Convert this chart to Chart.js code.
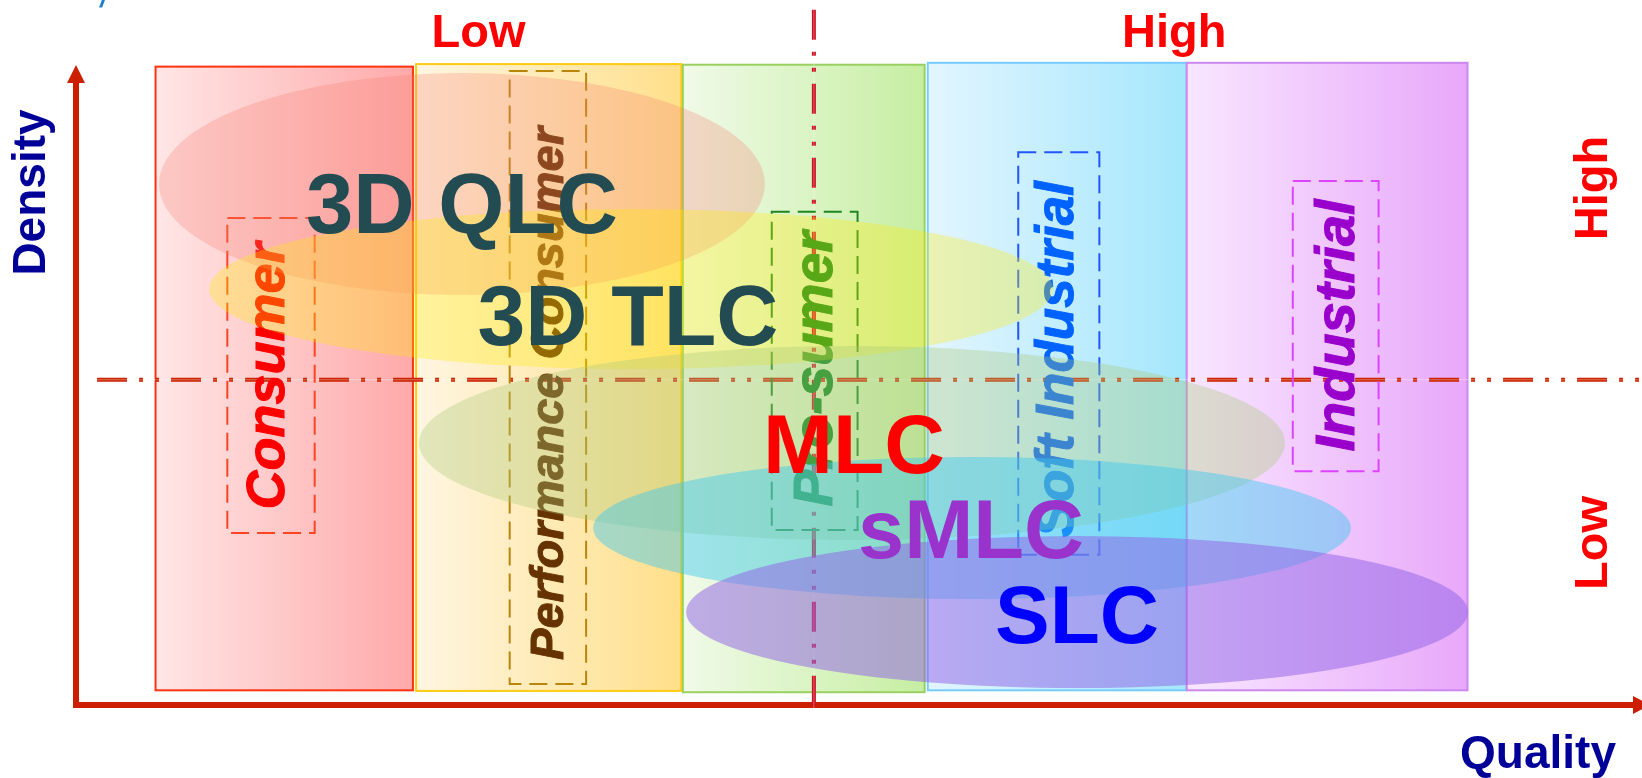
<!DOCTYPE html>
<html><head><meta charset="utf-8">
<script src="https://cdn.jsdelivr.net/npm/chart.js@4.4.0/dist/chart.umd.min.js"></script>
<style>html,body{margin:0;padding:0;background:#fff;overflow:hidden}#wrap{width:1642px;height:778px}</style>
</head><body><div id="wrap"><canvas id="c" width="1642" height="778"></canvas></div>
<script>
// ---- Data: Quality (x, 0-100) and Density (y, 0-100) units ----
const segmentNames = ['Consumer', 'Performance Consumer', 'Pro-sumer', 'Soft Industrial', 'Industrial'];
const segmentQualityFrom = [5.1, 21.8, 38.9, 54.6, 71.2];
const segmentQualityTo   = [21.6, 38.8, 54.4, 71.2, 89.2];
const segmentDensityFrom = [2.3, 2.2, 2.0, 2.3, 2.3];
const segmentDensityTo   = [99.9, 100.3, 100.2, 100.5, 100.5];

const boxQualityFrom = [9.7, 27.8, 44.6, 60.4, 78.0];
const boxQualityTo   = [15.3, 32.7, 50.1, 65.6, 83.5];
const boxDensityFrom = [26.9, 3.3, 27.4, 23.5, 36.6];
const boxDensityTo   = [76.2, 99.2, 77.2, 86.5, 82.0];
const segLabelQuality = [12.4, 30.4, 47.5, 62.95, 80.96];
const segLabelDensity = [51.5, 48.75, 52.6, 54.1, 59.4];

const techNames = ['3D QLC', '3D TLC', 'MLC', 'sMLC', 'SLC'];
const techQuality = [24.74, 35.58, 49.74, 57.44, 64.17];
const techDensity = [81.53, 65.10, 41.00, 27.70, 14.55];
const techQualitySpread = [19.42, 27.05, 27.76, 24.29, 25.06];
const techDensitySpread = [17.37, 12.52, 15.18, 11.11, 11.89];
const techLabelQuality = [24.74, 35.38, 49.87, 57.37, 64.17];
const techLabelDensity = [73.9, 56.3, 36.3, 23.0, 9.7];

const qualityTicks = ['Low', 'High'];
const qualityTickValues = [25.8, 70.4];
const densityTicks = ['Low', 'High'];
const densityTickValues = [25.35, 80.9];
const qualityDivider = 47.3;
const densityDivider = 50.9;
const qualityDividerSpan = [-1.25, 108.8];   // density range of the vertical divider
const densityDividerSpan = [1.35, 100.2];    // quality range of the horizontal divider

// ---- Styles ----
const FONT = '"Liberation Sans", Arial, Helvetica, sans-serif';
const segFillFrom = ['#ffe6e6', '#fff6e2', '#f0fae8', '#e2f5ff', '#f8e6ff'];
const segFillTo   = ['#ffa9a9', '#ffdf8a', '#c6eea2', '#a4e7fc', '#e8a8fa'];
const segBorder   = ['#ff3311', '#ffcc11', '#99d060', '#77ccff', '#cc88ee'];
const boxColor    = ['#ff4422', '#b8860b', '#1f861f', '#2255ff', '#dd44ff'];
const segTextColor = ['#ff0000', '#663300', '#118a22', '#0062ff', '#9900cc'];
const segTextSize = [54, 47, 55, 53, 56];
const techFill = ['rgba(245,125,110,0.28)', 'rgba(255,235,0,0.30)', 'rgba(170,200,120,0.35)',
                  'rgba(60,200,240,0.45)', 'rgba(145,100,230,0.52)'];
const techTextColor = ['#234b52', '#234b52', '#ff0000', '#9933cc', '#0000ff'];
const techTextSize = [85, 86, 84, 83, 82];
const AXIS = '#cc1f00';

const diagramPlugin = {
  id: 'diagram',
  afterDatasetsDraw(chart) {
    const ctx = chart.ctx, xs = chart.scales.x, ys = chart.scales.y, ca = chart.chartArea;
    const X = v => xs.getPixelForValue(v), Y = v => ys.getPixelForValue(v);
    ctx.save();

    // segment rectangles
    segmentNames.forEach((n, i) => {
      const x0 = X(segmentQualityFrom[i]), x1 = X(segmentQualityTo[i]);
      const y0 = Y(segmentDensityTo[i]), y1 = Y(segmentDensityFrom[i]);
      const g = ctx.createLinearGradient(x0, 0, x1, 0);
      g.addColorStop(0, segFillFrom[i]); g.addColorStop(1, segFillTo[i]);
      ctx.fillStyle = g;
      ctx.fillRect(x0, y0, x1 - x0, y1 - y0);
      ctx.lineWidth = 2; ctx.strokeStyle = segBorder[i];
      ctx.strokeRect(x0, y0, x1 - x0, y1 - y0);
    });

    // axes with arrows
    const ox = X(0), oy = Y(0);
    ctx.fillStyle = AXIS; ctx.strokeStyle = AXIS; ctx.lineWidth = 6; ctx.lineCap = 'butt';
    ctx.beginPath(); ctx.moveTo(ox, oy + 3); ctx.lineTo(ox, Y(100) + 16); ctx.stroke();
    ctx.beginPath(); ctx.moveTo(ox, Y(100) - 1); ctx.lineTo(ox - 9, Y(100) + 17); ctx.lineTo(ox + 9, Y(100) + 17); ctx.closePath(); ctx.fill();
    ctx.beginPath(); ctx.moveTo(ox - 3, oy); ctx.lineTo(X(100) - 2, oy); ctx.stroke();
    ctx.beginPath(); ctx.moveTo(X(100) + 14, oy); ctx.lineTo(X(100) - 3, oy - 9); ctx.lineTo(X(100) - 3, oy + 9); ctx.closePath(); ctx.fill();

    // dash-dot-dot dividers
    const dashPat = [30, 12, 4, 12, 4, 12];
    function divider(xa, ya, xb, yb, col) {
      ctx.setLineDash(dashPat); ctx.lineWidth = 4; ctx.strokeStyle = col;
      ctx.beginPath(); ctx.moveTo(xa, ya); ctx.lineTo(xb, yb); ctx.stroke();
      ctx.setLineDash([]); ctx.lineWidth = 1; ctx.strokeStyle = 'rgba(255,255,255,0.35)';
      ctx.beginPath(); ctx.moveTo(xa, ya); ctx.lineTo(xb, yb); ctx.stroke();
    }
    divider(X(densityDividerSpan[0]), Y(densityDivider), X(densityDividerSpan[1]), Y(densityDivider), '#cc2200');
    divider(X(qualityDivider), Y(qualityDividerSpan[1]), X(qualityDivider), Y(qualityDividerSpan[0]), '#cc1122');

    // dashed segment boxes and vertical segment names
    segmentNames.forEach((n, i) => {
      const x0 = X(boxQualityFrom[i]), x1 = X(boxQualityTo[i]);
      const y0 = Y(boxDensityTo[i]), y1 = Y(boxDensityFrom[i]);
      ctx.setLineDash([18, 8]); ctx.lineWidth = 2; ctx.strokeStyle = boxColor[i];
      ctx.strokeRect(x0, y0, x1 - x0, y1 - y0);
      ctx.setLineDash([]);
      ctx.save();
      ctx.translate(X(segLabelQuality[i]), Y(segLabelDensity[i]));
      ctx.rotate(-Math.PI / 2);
      ctx.font = 'italic bold ' + segTextSize[i] + 'px ' + FONT;
      ctx.textAlign = 'center'; ctx.textBaseline = 'middle';
      ctx.fillStyle = segTextColor[i];
      ctx.strokeStyle = segTextColor[i]; ctx.lineWidth = 1;
      ctx.fillText(n, 0, 0);
      ctx.strokeText(n, 0, 0);
      ctx.restore();
    });

    // technology ellipses
    techNames.forEach((n, i) => {
      const cx = X(techQuality[i]), cy = Y(techDensity[i]);
      const rx = Math.abs(X(techQuality[i] + techQualitySpread[i]) - cx);
      const ry = Math.abs(Y(techDensity[i] + techDensitySpread[i]) - cy);
      ctx.fillStyle = techFill[i];
      ctx.beginPath(); ctx.ellipse(cx, cy, rx, ry, 0, 0, Math.PI * 2); ctx.fill();
    });

    // technology labels
    techNames.forEach((n, i) => {
      ctx.font = 'bold ' + techTextSize[i] + 'px ' + FONT;
      ctx.textAlign = 'center'; ctx.textBaseline = 'alphabetic';
      ctx.fillStyle = techTextColor[i];
      ctx.fillText(n, X(techLabelQuality[i]), Y(techLabelDensity[i]));
    });

    // axis level labels
    ctx.fillStyle = '#ff0000';
    ctx.font = 'bold 47px ' + FONT;
    ctx.textAlign = 'center'; ctx.textBaseline = 'alphabetic';
    qualityTicks.forEach((t, i) => ctx.fillText(t, X(qualityTickValues[i]), ca.top - 19));
    densityTicks.forEach((t, i) => {
      ctx.save();
      ctx.translate(ca.right - 29, Y(densityTickValues[i]));
      ctx.rotate(-Math.PI / 2);
      ctx.fillText(t, 0, 0);
      ctx.restore();
    });

    // axis titles
    ctx.fillStyle = '#000099';
    ctx.font = 'bold 46px ' + FONT;
    ctx.textAlign = 'right';
    ctx.fillText('Quality', ca.right - 20, ca.bottom + 63);
    ctx.save();
    ctx.translate(ca.left - 31, Y(80.2));
    ctx.rotate(-Math.PI / 2);
    ctx.textAlign = 'center';
    ctx.fillText('Density', 0, 0);
    ctx.restore();

    // clipped fragment at the top edge
    ctx.fillStyle = '#1e7fd0';
    ctx.font = 'italic bold 26px ' + FONT;
    ctx.textAlign = 'left';
    ctx.fillText('/', ca.left + 24, 7);

    ctx.restore();
  }
};

new Chart(document.getElementById('c'), {
  type: 'scatter',
  data: {
    datasets: [{
      label: 'labels',
      data: techNames.map((n, i) => ({ x: techLabelQuality[i], y: techLabelDensity[i] })),
      pointRadius: 0, showLine: false
    }]
  },
  options: {
    responsive: false, animation: false, devicePixelRatio: 1,
    layout: { padding: { left: 76, right: 6, top: 66, bottom: 73 } },
    scales: {
      x: { type: 'linear', min: 0, max: 100, display: false },
      y: { type: 'linear', min: 0, max: 100, display: false }
    },
    plugins: { legend: { display: false }, tooltip: { enabled: false }, title: { display: false } }
  },
  plugins: [diagramPlugin]
});
</script></body></html>
